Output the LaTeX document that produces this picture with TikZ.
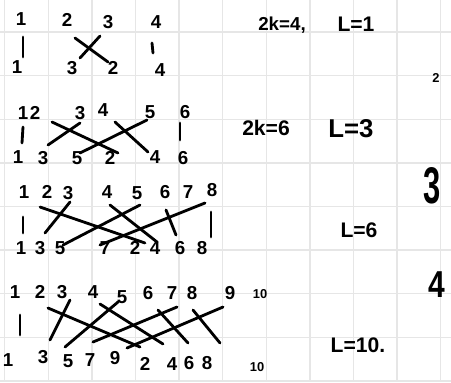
\documentclass[tikz,border=0pt]{standalone}
\usepackage{fontspec}
\setmainfont{Liberation Sans}
\usetikzlibrary{positioning}
\definecolor{paperline}{RGB}{230,230,230}

\begin{document}
\begin{tikzpicture}[x=0.03cm, y=-0.03cm,
  paper/.style={draw=paperline, line width=1.2pt},
  num/.style={font=\fontsize{16}{16}\selectfont\bfseries, inner sep=1pt},
  small/.style={font=\fontsize{11}{11}\selectfont\bfseries, inner sep=1pt},
  note/.style={font=\fontsize{18}{18}\selectfont\bfseries, inner sep=1pt},
  lnk/.style={line width=2.4pt, line cap=round}
]
\useasboundingbox (0,0) rectangle (451,382);
% Squared paper
\foreach \i in {0,...,10}
  \draw[paper] (4.7+43.6*\i,0) -- (4.7+43.6*\i,382);
\foreach \j in {0,...,8}
  \draw[paper] (0,32+43.6*\j) -- (451,32+43.6*\j);

% Row 1: 2k=4
\foreach \n/\x/\y in {1/21/19, 2/67/20, 3/108/22, 4/156/22}
  \node[num] (tA\n) at (\x,\y) {\n};
\foreach \n/\x/\y in {1/17/67, 3/72/68, 2/113/68, 4/160/70}
  \node[num] (bA\n) at (\x,\y) {\n};
\draw[lnk] ([shift={(2,18)}]tA1.center) -- ([shift={(6,-10)}]bA1.center);
\draw[lnk] ([shift={(8,18)}]tA2.center) -- ([shift={(-5,-6)}]bA2.center);
\draw[lnk] ([shift={(-8,14)}]tA3.center) -- ([shift={(8,-10)}]bA3.center);
\draw[lnk] ([shift={(-4,21)}]tA4.center) -- ([shift={(-7,-17)}]bA4.center);

% Row 2: 2k=6
\foreach \n/\x/\y in {1/23/113, 2/35/113, 3/80/113, 4/103/110, 5/150/112, 6/185/112}
  \node[num] (tB\n) at (\x,\y) {\n};
\foreach \n/\x/\y in {1/18/157, 3/43/158, 5/77/158, 2/110/158, 4/155/157, 6/183/158}
  \node[num] (bB\n) at (\x,\y) {\n};
\draw[lnk] ([shift={(0,14)}]tB1.center) -- ([shift={(4,-14)}]bB1.center);
\draw[lnk] ([shift={(17,9)}]tB2.center) -- ([shift={(8,-5)}]bB2.center);
\draw[lnk] ([shift={(0,10)}]tB3.center) -- ([shift={(5,-13)}]bB3.center);
\draw[lnk] ([shift={(12,12)}]tB4.center) -- ([shift={(-7,-5)}]bB4.center);
\draw[lnk] ([shift={(-3,8)}]tB5.center) -- ([shift={(3,-5)}]bB5.center);
\draw[lnk] ([shift={(-5,11)}]tB6.center) -- ([shift={(-3,-18)}]bB6.center);

% Row 3: 2k=8
\foreach \n/\x/\y in {1/24/192, 2/47/192, 3/68/193, 4/107/192, 5/137/193, 6/165/192, 7/188/192, 8/212/190}
  \node[num] (tC\n) at (\x,\y) {\n};
\foreach \n/\x/\y in {1/21/248, 3/40/248, 5/60/248, 7/105/248, 2/135/248, 4/155/248, 6/180/248, 8/202/248}
  \node[num] (bC\n) at (\x,\y) {\n};
\draw[lnk] ([shift={(-1,25)}]tC1.center) -- ([shift={(2,-15)}]bC1.center);
\draw[lnk] ([shift={(-7,15)}]tC2.center) -- ([shift={(10,-5)}]bC2.center);
\draw[lnk] ([shift={(2,9)}]tC3.center) -- ([shift={(5,-15)}]bC3.center);
\draw[lnk] ([shift={(3,13)}]tC4.center) -- ([shift={(2,-6)}]bC4.center);
\draw[lnk] ([shift={(3,12)}]tC5.center) -- ([shift={(3,-3)}]bC5.center);
\draw[lnk] ([shift={(1,18)}]tC6.center) -- ([shift={(-4,-13)}]bC6.center);
\draw[lnk] ([shift={(17,11)}]tC7.center) -- ([shift={(-5,-3)}]bC7.center);
\draw[lnk] ([shift={(-1,22)}]tC8.center) -- ([shift={(9,-11)}]bC8.center);

% Row 4: 2k=10
\foreach \n/\x/\y in {1/15/292, 2/40/292, 3/62/292, 4/93/292, 5/122/297, 6/148/293, 7/172/293, 8/192/293, 9/230/293}
  \node[num] (tD\n) at (\x,\y) {\n};
\node[small] (tD10) at (260,294) {10};
\foreach \n/\x/\y in {1/8/360, 3/43/357, 5/68/361, 7/90/360, 9/115/358, 2/145/364, 4/172/364, 6/189/363, 8/207/363}
  \node[num] (bD\n) at (\x,\y) {\n};
\node[small] (bD10) at (257,367) {10};
\draw[lnk] ([shift={(5,23)}]tD1.center) -- ([shift={(12,-25)}]bD1.center);
\draw[lnk] ([shift={(8,16)}]tD2.center) -- ([shift={(-5,-17)}]bD2.center);
\draw[lnk] ([shift={(8,8)}]tD3.center) -- ([shift={(7,-17)}]bD3.center);
\draw[lnk] ([shift={(7,12)}]tD4.center) -- ([shift={(-9,-20)}]bD4.center);
\draw[lnk] ([shift={(-4,5)}]tD5.center) -- ([shift={(-3,-14)}]bD5.center);
\draw[lnk] ([shift={(10,17)}]tD6.center) -- ([shift={(-1,-20)}]bD6.center);
\draw[lnk] ([shift={(5,14)}]tD7.center) -- ([shift={(3,-18)}]bD7.center);
\draw[lnk] ([shift={(1,17)}]tD8.center) -- ([shift={(13,-20)}]bD8.center);
\draw[lnk] ([shift={(-7,14)}]tD9.center) -- ([shift={(12,-10)}]bD9.center);

% Notes
\node[num] (kA) at (282,25) {2k=4,};
\node[note] (lA) at (356,24) {L=1};
\node[note] (kB) at (266,128) {2k=6};
\node[font=\fontsize{22}{22}\selectfont\bfseries, inner sep=1pt] (lB) at (351,129) {L=3};
\node[note] (lC) at (359,230) {L=6};
\node[note] (lD) at (358,345) {L=10.};
% Column on the right
\node[small] (mB) at (436,78) {2};
\node[font=\fontsize{44}{44}\selectfont\bfseries, inner sep=0pt] (mC) at (432,186) {\scalebox{0.6}[1]{3}};
\node[font=\fontsize{32}{32}\selectfont\bfseries, inner sep=0pt] (mD) at (437,285) {\scalebox{0.8}[1]{4}};
\end{tikzpicture}
\end{document}
